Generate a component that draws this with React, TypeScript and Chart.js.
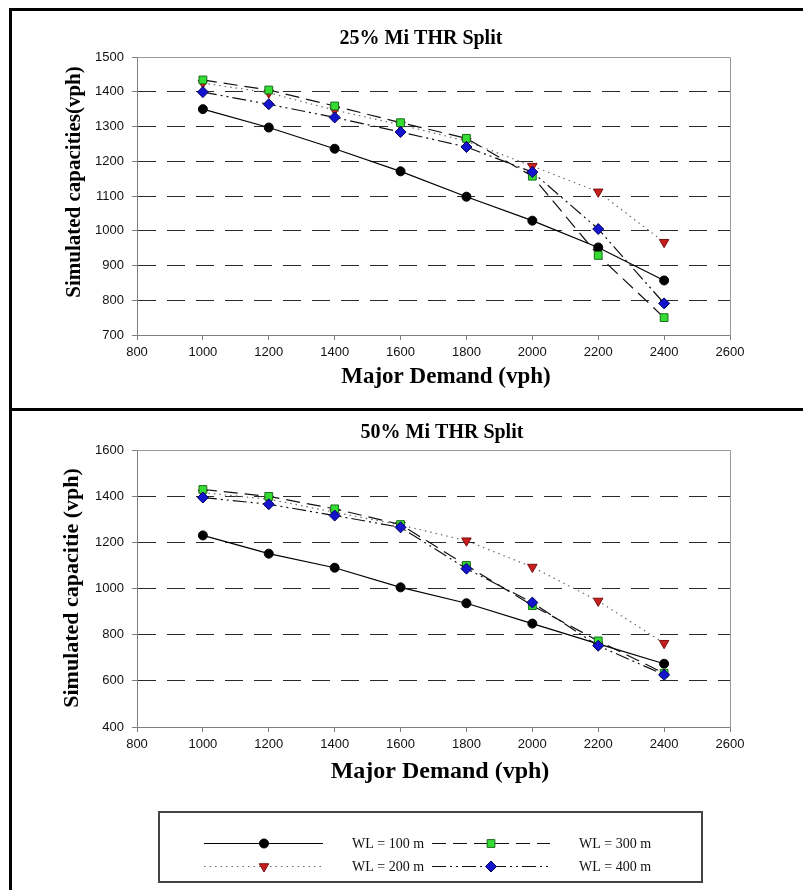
import React, { useEffect, useRef } from "react";
import { Chart, registerables } from "chart.js";

Chart.register(...registerables);

// ---------------- data ----------------
const demand = [1000, 1200, 1400, 1600, 1800, 2000, 2200, 2400];

const seriesLabels = ["WL = 100 m", "WL = 200 m", "WL = 300 m", "WL = 400 m"];

// 25% Mi THR split
const top100 = [1350, 1297, 1236, 1171, 1098, 1029, 952, 857];
const top200 = [1425, 1397, 1347, 1305, 1258, 1186, 1112, 967];
const top300 = [1434, 1405, 1359, 1311, 1266, 1157, 929, 750];
const top400 = [1399, 1364, 1326, 1284, 1241, 1169, 1005, 791];

// 50% Mi THR split
const bot100 = [1230, 1151, 1090, 1005, 936, 848, 760, 674];
const bot200 = [1415, 1387, 1330, 1275, 1207, 1093, 946, 763];
const bot300 = [1429, 1399, 1345, 1277, 1100, 926, 773, 633];
const bot400 = [1394, 1365, 1316, 1265, 1086, 939, 752, 626];

const topTitle = "25% Mi THR Split";
const botTitle = "50% Mi THR Split";
const xTitle = "Major Demand (vph)";
const topYTitle = "Simulated capacities(vph)";
const botYTitle = "Simulated capacitie (vph)";

const xMin = 800, xMax = 2600, xStep = 200;
const topYMin = 700, topYMax = 1500, topYStep = 100;
const botYMin = 400, botYMax = 1600, botYStep = 200;

// ---------------- styles ----------------
const SERIF = "'Liberation Serif', 'Times New Roman', serif";
const SANS = "'Liberation Sans', Arial, sans-serif";

const seriesStyles = [
  { line: "#000000", dash: [] as number[], width: 1.2, point: "circle", radius: 4.5, fill: "#000000", stroke: "#000000", rot: 0, order: 2 },
  { line: "#6a6a6a", dash: [1.5, 4], width: 1.2, point: "triangle", radius: 5.5, fill: "#c81e1e", stroke: "#7a1010", rot: 180, order: 3 },
  { line: "#111111", dash: [14, 7], width: 1.2, point: "rect", radius: 5.5, fill: "#33dd33", stroke: "#1a6e1a", rot: 0, order: 1 },
  { line: "#111111", dash: [14, 4, 2, 4, 2, 4], width: 1.2, point: "rectRot", radius: 5.5, fill: "#1414cc", stroke: "#000060", rot: 0, order: 0 },
];

function makeDatasets(values: number[][]) {
  return values.map((vals, i) => {
    const s = seriesStyles[i];
    return {
      label: seriesLabels[i],
      data: demand.map((x, j) => ({ x, y: vals[j] })),
      borderColor: s.line,
      borderWidth: s.width,
      borderDash: s.dash,
      pointStyle: s.point,
      pointRadius: s.radius,
      pointRotation: s.rot,
      pointBackgroundColor: s.fill,
      pointBorderColor: s.stroke,
      pointBorderWidth: 1,
      fill: false,
      tension: 0,
      order: s.order,
    };
  });
}

function drawMarker(ctx: CanvasRenderingContext2D, s: any, x: number, y: number) {
  const r = s.radius;
  ctx.save();
  ctx.setLineDash([]);
  ctx.fillStyle = s.fill;
  ctx.strokeStyle = s.stroke;
  ctx.lineWidth = 1;
  ctx.beginPath();
  if (s.point === "circle") {
    ctx.arc(x, y, r, 0, Math.PI * 2);
  } else if (s.point === "rect") {
    const h = r * Math.SQRT1_2;
    ctx.rect(x - h, y - h, 2 * h, 2 * h);
  } else if (s.point === "rectRot") {
    ctx.moveTo(x - r, y);
    ctx.lineTo(x, y - r);
    ctx.lineTo(x + r, y);
    ctx.lineTo(x, y + r);
    ctx.closePath();
  } else if (s.point === "triangle") {
    const a0 = (s.rot * Math.PI) / 180;
    for (let k = 0; k < 3; k++) {
      const a = a0 + (k * 2 * Math.PI) / 3;
      const px = x + Math.sin(a) * r;
      const py = y - Math.cos(a) * r;
      if (k === 0) ctx.moveTo(px, py);
      else ctx.lineTo(px, py);
    }
    ctx.closePath();
  }
  ctx.fill();
  ctx.stroke();
  ctx.restore();
}

const decorPlugin = {
  id: "decor",
  afterDraw(chart: any, _args: any, opts: any) {
    const { ctx, chartArea: ca } = chart;
    ctx.save();
    // plot frame (top & right)
    ctx.strokeStyle = "#9a9a9a";
    ctx.lineWidth = 1;
    ctx.setLineDash([]);
    ctx.beginPath();
    ctx.moveTo(Math.round(ca.left) + 0.5, Math.round(ca.top) + 0.5);
    ctx.lineTo(Math.round(ca.right) + 0.5, Math.round(ca.top) + 0.5);
    ctx.lineTo(Math.round(ca.right) + 0.5, Math.round(ca.bottom) + 0.5);
    ctx.stroke();

    // texts
    (opts.texts || []).forEach((t: any) => {
      ctx.save();
      ctx.fillStyle = "#000";
      ctx.font = t.font;
      ctx.textAlign = "center";
      ctx.textBaseline = "middle";
      ctx.translate(t.x, t.y);
      if (t.rot) ctx.rotate((t.rot * Math.PI) / 180);
      ctx.fillText(t.text, 0, 0);
      ctx.restore();
    });

    // legend
    const lg = opts.legend;
    if (lg) {
      ctx.save();
      ctx.strokeStyle = "#444";
      ctx.lineWidth = 2;
      ctx.strokeRect(lg.box[0], lg.box[1], lg.box[2] - lg.box[0], lg.box[3] - lg.box[1]);
      lg.items.forEach((it: any) => {
        const s = seriesStyles[it.i];
        ctx.save();
        ctx.strokeStyle = s.line;
        ctx.lineWidth = s.width;
        ctx.setLineDash(s.dash);
        ctx.beginPath();
        ctx.moveTo(it.x1, it.y + 0.5);
        ctx.lineTo(it.x2, it.y + 0.5);
        ctx.stroke();
        ctx.restore();
        drawMarker(ctx, s, it.mx, it.y + 0.5);
        ctx.fillStyle = "#111";
        ctx.font = `14px ${SERIF}`;
        ctx.textAlign = "left";
        ctx.textBaseline = "middle";
        ctx.fillText(chart.data.datasets[it.i].label, it.tx, it.y + 1);
      });
      ctx.restore();
    }
    ctx.restore();
  },
};

function makeConfig(
  values: number[][],
  yMin: number,
  yMax: number,
  yStep: number,
  padding: any,
  decor: any
) {
  return {
    type: "line",
    data: { datasets: makeDatasets(values) },
    plugins: [decorPlugin],
    options: {
      animation: false,
      responsive: false,
      devicePixelRatio: 1,
      layout: { padding },
      plugins: {
        legend: { display: false },
        title: { display: false },
        tooltip: { enabled: false },
        decor,
      },
      scales: {
        x: {
          type: "linear",
          min: xMin,
          max: xMax,
          afterFit: (s: any) => {
            s.height = 30;
          },
          ticks: {
            stepSize: xStep,
            color: "#111",
            padding: 5,
            font: { family: SANS, size: 13 },
            maxRotation: 0,
            callback: (v: any) => String(v),
          },
          grid: {
            drawOnChartArea: false,
            drawTicks: true,
            tickLength: 5,
            tickColor: "#808080",
          },
          border: { display: true, color: "#808080", width: 1 },
        },
        y: {
          type: "linear",
          min: yMin,
          max: yMax,
          afterFit: (s: any) => {
            s.width = 137;
          },
          ticks: {
            stepSize: yStep,
            color: "#111",
            padding: 8,
            font: { family: SANS, size: 13 },
            callback: (v: any) => String(v),
          },
          grid: {
            drawOnChartArea: true,
            drawTicks: true,
            tickLength: 5,
            tickColor: "#808080",
            tickBorderDash: [],
            color: (c: any) =>
              c.tick && (c.tick.value === yMin || c.tick.value === yMax) ? "rgba(0,0,0,0)" : "#2a2a2a",
            lineWidth: 1,
          },
          border: { display: true, color: "#808080", width: 1, dash: [18, 11] },
        },
      },
    },
  };
}

function ChartCanvas(props: { config: any; width: number; height: number; top: number }) {
  const ref = useRef<HTMLCanvasElement | null>(null);
  useEffect(() => {
    if (!ref.current) return;
    const chart = new Chart(ref.current, props.config);
    return () => chart.destroy();
  }, []);
  return (
    <canvas
      ref={ref}
      width={props.width}
      height={props.height}
      style={{ position: "absolute", left: 0, top: props.top, width: props.width, height: props.height, display: "block" }}
    />
  );
}

export default function App() {
  const topConfig = makeConfig(
    [top100, top200, top300, top400],
    topYMin,
    topYMax,
    topYStep,
    { left: 0, right: 73, top: 57, bottom: 45 },
    {
      texts: [
        { text: topTitle, x: 421, y: 39, font: `bold 20px ${SERIF}` },
        { text: xTitle, x: 446, y: 377, font: `bold 23px ${SERIF}` },
        { text: topYTitle, x: 75, y: 182, rot: -90, font: `bold 21px ${SERIF}` },
      ],
    }
  );
  const botConfig = makeConfig(
    [bot100, bot200, bot300, bot400],
    botYMin,
    botYMax,
    botYStep,
    { left: 0, right: 73, top: 40, bottom: 133 },
    {
      texts: [
        { text: botTitle, x: 442, y: 23, font: `bold 20px ${SERIF}` },
        { text: xTitle, x: 440, y: 362, font: `bold 24px ${SERIF}` },
        { text: botYTitle, x: 72, y: 178, rot: -90, font: `bold 22px ${SERIF}` },
      ],
      legend: {
        box: [159, 402, 702, 472],
        items: [
          { i: 0, x1: 204, x2: 323, mx: 264, tx: 352, y: 433 },
          { i: 2, x1: 432, x2: 550, mx: 491, tx: 579, y: 433 },
          { i: 1, x1: 204, x2: 323, mx: 264, tx: 352, y: 456 },
          { i: 3, x1: 432, x2: 550, mx: 491, tx: 579, y: 456 },
        ],
      },
    }
  );

  return (
    <div style={{ position: "absolute", left: 0, top: 0, width: 803, height: 890, background: "#fff", overflow: "hidden" }}>
      <ChartCanvas config={topConfig} width={803} height={410} top={0} />
      <ChartCanvas config={botConfig} width={803} height={480} top={410} />
      {/* outer frame */}
      <div style={{ position: "absolute", left: 9, top: 8, width: 794, height: 3, background: "#000" }} />
      <div style={{ position: "absolute", left: 9, top: 8, width: 3, height: 882, background: "#000" }} />
      <div style={{ position: "absolute", left: 9, top: 408, width: 794, height: 3, background: "#000" }} />
    </div>
  );
}
